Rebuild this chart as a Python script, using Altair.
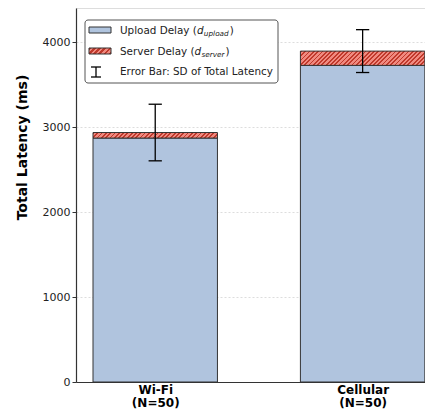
import json
import altair as alt
import pandas as pd

# ---------------- data ----------------
categories = ["Wi-Fi", "Cellular"]
n_samples = [50, 50]
upload_delay = [2870, 3725]     # ms
server_delay = [65, 168]        # ms
total_sd = [333, 252]           # ms, SD of total latency

y_ticks = [0, 1000, 2000, 3000, 4000]
legend_texts = ["Upload Delay (", "Server Delay (", "Error Bar: SD of Total Latency"]
legend_subs = ["upload", "server"]

# ---------------- layout / style ----------------
PLOT_W, PLOT_H = 349, 374
PX_PER_UNIT = 207.4
X_DOMAIN = [-0.382, -0.382 + PLOT_W / PX_PER_UNIT]
Y_MAX = 4400
BAR_HALF = 0.3
CAP_HALF = 0.032
FONT = "DejaVu Sans"
BLUE = "#b0c4de"
LIGHT_RED = "#f08a80"
DARK_RED = "#c0392b"
EDGE = "#333333"

df = pd.DataFrame({
    "cat": categories,
    "idx": list(range(len(categories))),
    "upload": upload_delay,
    "server": server_delay,
    "sd": total_sd,
})

xscale = alt.Scale(domain=X_DOMAIN, nice=False, zero=False)
yscale = alt.Scale(domain=[0, Y_MAX], nice=False)

label_arrays = [[c, f"(N={n})"] for c, n in zip(categories, n_samples)]
label_expr = " : ".join(
    f"datum.value == {i} ? {json.dumps(l)}" for i, l in enumerate(label_arrays[:-1])
) + f" : {json.dumps(label_arrays[-1])}"

xaxis = alt.Axis(values=list(range(len(categories))), labelExpr=label_expr, ticks=False,
                 grid=False, title=None, labelFont=FONT, labelFontWeight="bold",
                 labelFontSize=12, labelColor="black", labelPadding=2,
                 labelLineHeight=13, labelBaseline="top", labelFlush=False,
                 labelOverlap=False, domainColor=EDGE, domainWidth=1.2)
yaxis = alt.Axis(values=y_ticks, format="d", grid=True, gridDash=[2, 2],
                 gridColor="#d4d4d4", gridWidth=0.8, tickSize=4, tickColor=EDGE,
                 domainColor=EDGE, domainWidth=1.2, labelFont=FONT, labelFontSize=11,
                 labelColor="#222222", labelPadding=2, title="Total Latency (ms)",
                 titleFont=FONT, titleFontWeight="bold", titleFontSize=14,
                 titleColor="black", titleX=-54, titleY=139, titleAngle=270,
                 titleAlign="center", titleBaseline="middle")


def X(field):
    return alt.X(field, type="quantitative", scale=xscale, axis=xaxis)


def Y(field):
    return alt.Y(field, type="quantitative", scale=yscale, axis=yaxis)


base = alt.Chart(df).transform_calculate(
    x0=f"datum.idx - {BAR_HALF}",
    x1=f"datum.idx + {BAR_HALF}",
    c0=f"datum.idx - {CAP_HALF}",
    c1=f"datum.idx + {CAP_HALF}",
    zero="0",
    total="datum.upload + datum.server",
    lo="datum.upload + datum.server - datum.sd",
    hi="datum.upload + datum.server + datum.sd",
)


def hatch(w, h, period=4.3, frac=0.42):
    a = h / w
    s = (1 + a) / (1 + a * a)
    p = period / (w + h)
    stops = []
    t = 0.0
    while t < 1.0:
        m = min(t + p * frac, 1.0)
        e = min(t + p, 1.0)
        stops += [{"offset": round(t, 5), "color": DARK_RED},
                  {"offset": round(m, 5), "color": DARK_RED},
                  {"offset": round(m, 5), "color": LIGHT_RED},
                  {"offset": round(e, 5), "color": LIGHT_RED}]
        t += p
    return {"gradient": "linear", "x1": 0, "y1": 0, "x2": s, "y2": s * a, "stops": stops}


upload_bars = base.mark_rect(fill=BLUE, stroke=EDGE, strokeWidth=1).encode(
    x=X("x0"), x2="x1", y=Y("upload"), y2="zero")

bar_w = 2 * BAR_HALF * PX_PER_UNIT
server_layers = []
for i, sv in enumerate(server_delay):
    h = sv * PLOT_H / Y_MAX
    server_layers.append(
        base.transform_filter(alt.datum.idx == i)
        .mark_rect(fill=hatch(bar_w, h), stroke=EDGE, strokeWidth=1)
        .encode(x=X("x0"), x2="x1", y=Y("total"), y2="upload"))

err_v = base.mark_rule(color="black", strokeWidth=1.3).encode(x=X("idx"), y=Y("lo"), y2="hi")
err_top = base.mark_rule(color="black", strokeWidth=1.3).encode(x=X("c0"), x2="c1", y=Y("hi"))
err_bot = base.mark_rule(color="black", strokeWidth=1.3).encode(x=X("c0"), x2="c1", y=Y("lo"))

# ---------------- legend (annotation, drawn in pixel space) ----------------
one = alt.Data(values=[{}])
W_TABLE = {' ': .318, 'U': .732, 'p': .635, 'l': .278, 'o': .612, 'a': .613, 'd': .635,
           'D': .770, 'e': .615, 'y': .592, '(': .390, 'S': .635, 'r': .411, 'v': .592,
           's': .521, 'u': .634}


def tw(s, size):
    return sum(W_TABLE.get(c, .6) for c in s) * size


LFS = 10.4
SUBFS = 7.3
TX = 44
rows_y = [23, 44, 64]

leg = [alt.Chart(one).mark_rect(fill="white", stroke="#555555", strokeWidth=1, cornerRadius=3)
       .encode(x=alt.value(9), x2=alt.value(202), y=alt.value(12), y2=alt.value(75))]
leg.append(alt.Chart(one).mark_rect(fill=BLUE, stroke=EDGE, strokeWidth=1)
           .encode(x=alt.value(13), x2=alt.value(35), y=alt.value(rows_y[0] - 4), y2=alt.value(rows_y[0] + 2)))
leg.append(alt.Chart(one).mark_rect(fill=hatch(22, 6, period=5), stroke=EDGE, strokeWidth=1)
           .encode(x=alt.value(13), x2=alt.value(35), y=alt.value(rows_y[1] - 4), y2=alt.value(rows_y[1] + 2)))
ecx = 20
leg.append(alt.Chart(one).mark_rule(color="black", strokeWidth=1.3)
           .encode(x=alt.value(ecx), y=alt.value(rows_y[2] - 5), y2=alt.value(rows_y[2] + 5)))
for yy in (rows_y[2] - 5, rows_y[2] + 5):
    leg.append(alt.Chart(one).mark_rule(color="black", strokeWidth=1.3)
               .encode(x=alt.value(ecx - 5), x2=alt.value(ecx + 5), y=alt.value(yy)))

for k, txt in enumerate(legend_texts):
    leg.append(alt.Chart(one).mark_text(align="left", baseline="middle", font=FONT,
                                        fontSize=LFS, color="#222222")
               .encode(x=alt.value(TX), y=alt.value(rows_y[k]), text=alt.value(txt)))
    if k < len(legend_subs):
        xd = TX + tw(txt, LFS)
        xs = xd + tw("d", LFS) + 0.3
        xc = xs + tw(legend_subs[k], SUBFS) + 1
        leg.append(alt.Chart(one).mark_text(align="left", baseline="middle", font=FONT,
                                            fontSize=LFS, fontStyle="italic", color="#222222")
                   .encode(x=alt.value(xd), y=alt.value(rows_y[k]), text=alt.value("d")))
        leg.append(alt.Chart(one).mark_text(align="left", baseline="middle", font=FONT,
                                            fontSize=SUBFS, fontStyle="italic", color="#222222")
                   .encode(x=alt.value(xs), y=alt.value(rows_y[k] + 3), text=alt.value(legend_subs[k])))
        leg.append(alt.Chart(one).mark_text(align="left", baseline="middle", font=FONT,
                                            fontSize=LFS, color="#222222")
                   .encode(x=alt.value(xc), y=alt.value(rows_y[k]), text=alt.value(")")))

chart = alt.layer(upload_bars, *server_layers, err_v, err_top, err_bot, *leg).properties(
    width=PLOT_W, height=PLOT_H,
    autosize=alt.AutoSizeParams(type="none"),
    padding={"left": 68, "top": 0, "right": 0, "bottom": 27},
).configure_view(stroke=None).configure(background="white")

chart.save("out.html", embed_options={"renderer": "svg", "actions": False})
